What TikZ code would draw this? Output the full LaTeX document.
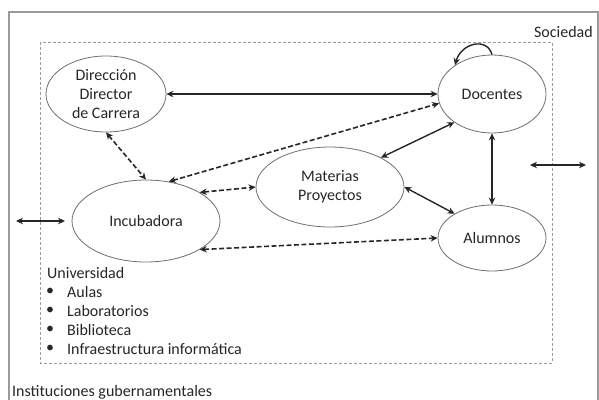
\documentclass[tikz,border=0pt]{standalone}
\usepackage{fontspec}
\setmainfont{Carlito}
\usetikzlibrary{arrows.meta,shapes.geometric}
\definecolor{txt}{HTML}{262626}
\definecolor{frame}{HTML}{9A9A9A}
\definecolor{rim}{HTML}{6E6E6E}
\tikzset{
  actor/.style={ellipse, draw=rim, line width=0.8pt, inner sep=0pt,
    text=txt, align=center, font=\fontsize{16}{19}\selectfont},
  label/.style={inner sep=0pt, text=txt, font=\fontsize{16}{19}\selectfont},
  link/.style={line width=1.4pt, draw=black!85,
    {Stealth[length=7pt,width=6.5pt]}-{Stealth[length=7pt,width=6.5pt]}},
  flow/.style={link, line width=1.6pt, dash pattern=on 5pt off 2.5pt},
  loop/.style={line width=1.4pt, draw=black!85, -{Stealth[length=7pt,width=6.5pt]}}
}
\begin{document}
\begin{tikzpicture}[x=1pt,y=-1pt]
  \useasboundingbox (0,0) rectangle (599,399);
  % outer frame (Sociedad) and inner dashed frame (Universidad)
  \draw[frame, line width=1.4pt] (9,400) -- (9,12) -- (598,12) -- (598,400);
  \draw[frame, line width=0.8pt, dash pattern=on 3pt off 2pt] (40,42) rectangle (552,363);

  % actors
  \node[actor, minimum width=120pt, minimum height=76pt] (dir) at (106,94)
    {Dirección\\Director\\de Carrera};
  \node[actor, minimum width=108pt, minimum height=78pt] (doc) at (492,94) {Docentes};
  \node[actor, minimum width=148pt, minimum height=82pt] (inc) at (146,221) {Incubadora};
  \node[actor, minimum width=148pt, minimum height=80pt] (mat) at (330,187) {Materias\\Proyectos};
  \node[actor, minimum width=108pt, minimum height=66pt] (alu) at (492,238) {Alumnos};

  % labels
  \node[label, anchor=east] (soc) at (593,32) {Sociedad};
  \node[label, anchor=west] (uni) at (47,273) {Universidad};
  \node[label, anchor=west] (b1) at (46,292) {•};
  \node[label, anchor=west] (l1) at (67,292) {Aulas};
  \node[label, anchor=west] (b2) at (46,311) {•};
  \node[label, anchor=west] (l2) at (67,311) {Laboratorios};
  \node[label, anchor=west] (b3) at (46,330) {•};
  \node[label, anchor=west] (l3) at (67,330) {Biblioteca};
  \node[label, anchor=west] (b4) at (46,349) {•};
  \node[label, anchor=west] (l4) at (67,349) {Infraestructura informática};
  \node[label, anchor=west] (gob) at (12,392) {Instituciones gubernamentales};

  % free ends of the outside exchanges
  \coordinate (inL) at (16,221);
  \coordinate (inR) at (65,221);
  \coordinate (outL) at (530,165);
  \coordinate (outR) at (586,165);

  % solid relations
  \draw[link] (dir.east) -- (doc.west);
  \draw[link] (mat.30) -- (doc.217);
  \draw[link] (mat.east) -- (alu.147);
  \draw[link] (doc.south) -- (alu.north);
  \draw[loop] (doc.north) .. controls +(-5,-18) and +(6,-22) .. (doc.142);
  \draw[link] (inL) -- (inR);
  \draw[link] (outL) -- (outR);

  % dashed relations
  \draw[flow] (dir.south) -- (inc.north);
  \draw[flow] (inc.60) -- (doc.190);
  \draw[flow] (inc.28) -- (mat.west);
  \draw[flow] (inc.-28) -- (alu.west);
\end{tikzpicture}
\end{document}
